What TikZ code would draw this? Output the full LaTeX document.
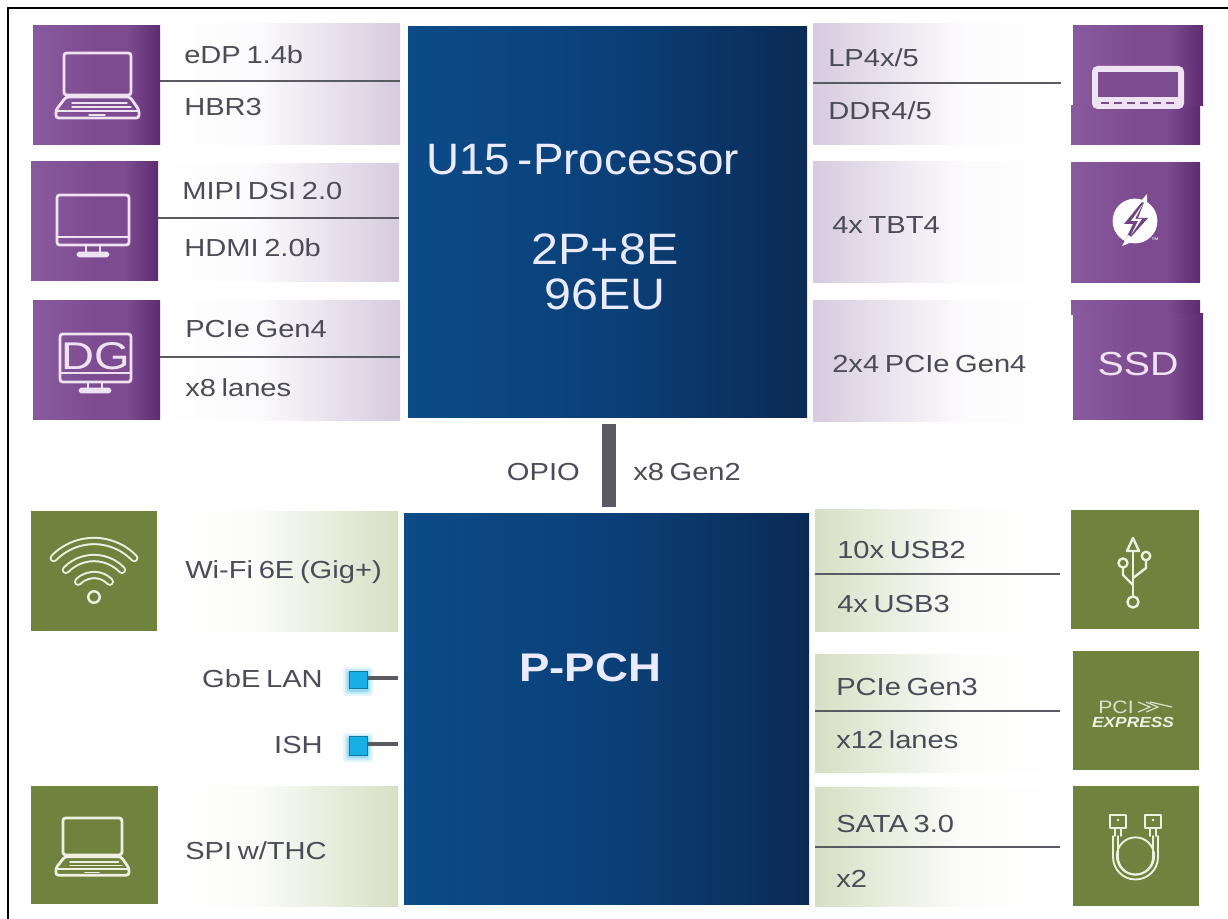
\documentclass[tikz,border=0pt]{standalone}
\usepackage{fontspec}
\setmainfont{Liberation Sans}[FakeStretch=1.18,WordSpace=0.7]
\newfontfamily\wideb{Liberation Sans}[FakeStretch=1.14]
\newfontfamily\chipa{Liberation Sans}[FakeStretch=1.04,WordSpace=0.6]
\newfontfamily\chipb{Liberation Sans}[FakeStretch=1.10]
\usetikzlibrary{calc}
\definecolor{txt}{HTML}{4C4C58}
\definecolor{rulec}{HTML}{5A5A62}
\definecolor{pA}{HTML}{8A5A9F}
\definecolor{pB}{HTML}{7C4B90}
\definecolor{pC}{HTML}{5C2B70}
\definecolor{gA}{HTML}{6F823E}
\definecolor{bA}{HTML}{0C4B88}
\definecolor{bB}{HTML}{0B4079}
\definecolor{bC}{HTML}{0B2B55}
\definecolor{bandP}{HTML}{D7CBDF}
\definecolor{bandG}{HTML}{D6DFC4}
\definecolor{icoP}{HTML}{EFE3F3}
\definecolor{icoG}{HTML}{EEF1E2}
\definecolor{sky}{HTML}{18AEE6}
\pgfdeclarehorizontalshading{iconP}{100bp}{color(0bp)=(pA); color(25bp)=(pA); color(50bp)=(pB); color(62bp)=(pB); color(75bp)=(pC); color(100bp)=(pC)}
\pgfdeclarehorizontalshading{chipS}{100bp}{color(0bp)=(bA); color(25bp)=(bA); color(50bp)=(bB); color(75bp)=(bC); color(100bp)=(bC)}
\pgfdeclarehorizontalshading{bandPL}{100bp}{color(0bp)=(white); color(25bp)=(white); color(45bp)=(white!92!bandP); color(75bp)=(bandP); color(100bp)=(bandP)}
\pgfdeclarehorizontalshading{bandPR}{100bp}{color(0bp)=(bandP); color(25bp)=(bandP); color(55bp)=(white!92!bandP); color(75bp)=(white); color(100bp)=(white)}
\pgfdeclarehorizontalshading{bandGL}{100bp}{color(0bp)=(white); color(25bp)=(white); color(45bp)=(white!92!bandG); color(75bp)=(bandG); color(100bp)=(bandG)}
\pgfdeclarehorizontalshading{bandGR}{100bp}{color(0bp)=(bandG); color(25bp)=(bandG); color(55bp)=(white!92!bandG); color(75bp)=(white); color(100bp)=(white)}
\newcommand{\bx}[6]{\node[#1,anchor=north west,inner sep=0pt,outer sep=0pt,minimum width={(#5-#3)*0.75pt},minimum height={(#6-#4)*0.75pt}] (#2) at (#3,#4) {};}
\tikzset{
 x=0.75pt,y=-0.75pt,
 ipu/.style={shading=iconP},
 igr/.style={fill=gA},
 chip/.style={shading=chipS},
 lab/.style={anchor=base west,inner sep=0pt,text=txt,font=\fontsize{18.5}{20}\selectfont},
 labr/.style={lab,anchor=base east},
 big/.style={anchor=base,inner sep=0pt,text=white!92!blue,font=\chipb\fontsize{33}{36}\selectfont},
 divider/.style={draw=rulec,line width=1.1pt},
 stub/.style={draw=rulec,line width=2.4pt},
 ico/.style={line width=2.1pt,line join=round,line cap=round},
 port/.style={fill=sky,draw=sky!70!black,line width=.5pt},
}
\newcommand{\laptop}[4]{% cx cy scale colour
 \begin{scope}[shift={(#1,#2)},scale=#3,ico,draw=#4]
 \draw[rounded corners=2pt] (-33,-33) rectangle (34,9);
 \draw[rounded corners=2pt] (-31,11) -- (33,11) -- (42,24) -- (42,32) -- (-41,32) -- (-41,24) -- cycle;
 \draw[line width=1.4pt] (-41,25) -- (42,25);
 \draw[line width=1.1pt] (-25,17) -- (30,17) (-25,21) -- (34,21);
 \draw[line width=1.1pt] (-8,29) -- (8,29);
 \end{scope}}
\newcommand{\monitor}[3]{% cx cy colour
 \begin{scope}[shift={(#1,#2)},ico,draw=#3]
 \draw[rounded corners=2pt] (-36,-29) rectangle (36,21);
 \draw (-36,13) -- (36,13);
 \draw (-7,21) -- (-7,29) (7,21) -- (7,29);
 \draw[rounded corners=1pt] (-15,29) rectangle (15,32);
 \end{scope}}
\begin{document}
\begin{tikzpicture}
\useasboundingbox (0,0) rectangle (1228,919);
\fill[white] (0,0) rectangle (1228,919);
% frame
\coordinate (fa) at (8,919); \coordinate (fb) at (8,8); \coordinate (fc) at (1228,8);
\draw[black,line width=.9pt] (fa) -- (fb) -- (fc);

% bands
\bx{shading=bandPL}{lb1}{160}{24}{400}{145}
\bx{shading=bandPL}{lb2}{158}{164}{399}{282}
\bx{shading=bandPL}{lb3}{160}{301}{400}{421}
\bx{shading=bandPR}{rb1}{813}{24}{1060}{145}
\bx{shading=bandPR}{rb2}{813}{162}{1060}{283}
\bx{shading=bandPR}{rb3}{813}{301}{1060}{422}
\bx{shading=bandGL}{lg1}{157}{512}{398}{631}
\bx{shading=bandGL}{lg2}{158}{786}{398}{906}
\bx{shading=bandGR}{rg1}{815}{510}{1060}{631}
\bx{shading=bandGR}{rg2}{815}{654}{1060}{772}
\bx{shading=bandGR}{rg3}{815}{787}{1060}{906}

% icon squares
\bx{ipu}{il1}{33}{26}{160}{145}
\bx{ipu}{il2}{31}{162}{158}{281}
\bx{ipu}{il3}{33}{301}{160}{420}
\bx{ipu}{ir1b}{1071}{106}{1200}{145}
\bx{ipu}{ir1}{1073}{26}{1203}{106}
\bx{ipu}{ir2}{1071}{163}{1200}{283}
\bx{ipu}{ir3b}{1071}{301}{1200}{315}
\bx{ipu}{ir3}{1073}{314}{1203}{420}
\bx{igr}{gl1}{31}{511}{157}{631}
\bx{igr}{gl2}{31}{786}{158}{904}
\bx{igr}{gr1}{1071}{510}{1199}{629}
\bx{igr}{gr2}{1073}{651}{1199}{770}
\bx{igr}{gr3}{1073}{786}{1199}{906}

% chips
\bx{chip}{cpu}{408}{27}{807}{418}
\bx{chip}{pch}{404}{514}{809}{904}

% dividers
\foreach \n/\xa/\xb/\yy in {d1/160/400/81,d2/158/399/218,d3/160/400/357,d4/813/1061/83,d5/815/1060/574,d6/815/1060/711,d7/815/1060/847}{
 \coordinate (\n a) at (\xa,\yy); \coordinate (\n b) at (\xb,\yy);
 \draw[divider] (\n a) -- (\n b);
}

% labels
\node[lab] (t1) at (184,64) {eDP 1.4b};
\node[lab] (t2) at (184,116) {HBR3};
\node[lab] (t3) at (182,200) {MIPI DSI 2.0};
\node[lab] (t4) at (184,257) {HDMI 2.0b};
\node[lab] (t5) at (185,338) {PCIe Gen4};
\node[lab] (t6) at (185,397) {x8 lanes};
\node[lab] (t7) at (828,67) {LP4x/5};
\node[lab] (t8) at (828,120) {DDR4/5};
\node[lab] (t9) at (832,234) {4x TBT4};
\node[lab] (t10) at (832,373) {2x4 PCIe Gen4};
\node[lab] (t11) at (185,578) {Wi-Fi 6E (Gig+)};
\node[labr] (t12) at (323,687) {GbE LAN};
\node[labr] (t13) at (323,753) {ISH};
\node[lab] (t14) at (185,859) {SPI w/THC};
\node[lab] (t15) at (837,558) {10x USB2};
\node[lab] (t16) at (837,612) {4x USB3};
\node[lab] (t17) at (836,695) {PCIe Gen3};
\node[lab] (t18) at (836,748) {x12 lanes};
\node[lab] (t19) at (836,832) {SATA 3.0};
\node[lab] (t20) at (836,887) {x2};
\node[labr] (t21) at (580,481) {OPIO};
\node[lab] (t22) at (633,481) {x8 Gen2};

% chip labels
\node[big,anchor=base west,font=\chipa\fontsize{33}{36}\selectfont] (c1) at (426,175) {U15 -Processor};
\node[big] (c2) at (605,265) {2P+8E};
\node[big] (c3) at (605,310) {96EU};
\node[big,font=\wideb\bfseries\fontsize{30}{32}\selectfont] (c4) at (590,681) {P-PCH};

% OPIO link
\coordinate (oa) at (609,424); \coordinate (ob) at (609,507);
\draw[draw=rulec,line width=10.5pt] (oa) -- (ob);

% small ports
\foreach \y in {679,745}{
 \foreach \g/\o in {6/.10,4/.16,2/.25}{
  \fill[sky,opacity=\o,rounded corners=2pt] (349-\g,\y-8-\g+2) rectangle (367+\g,\y+9+\g+2);
 }
}
\bx{port}{p1}{349}{671}{367}{688}
\bx{port}{p2}{349}{736}{367}{755}
\coordinate (p1e) at (398,678); \coordinate (p2e) at (398,744);
\draw[stub] (p1.east |- p1e) -- (p1e);
\draw[stub] (p2.east |- p2e) -- (p2e);

% icons
\laptop{97}{86}{1}{icoP}
\monitor{93}{224}{icoP}
\begin{scope}[ico,draw=icoP]
 \draw[rounded corners=2pt] (60,334) rectangle (131,382);
 \draw (60,373) -- (131,373);
 \draw (88,382) -- (88,389) (102,382) -- (102,389);
 \draw[rounded corners=1pt] (80,389) rectangle (110,392);
\end{scope}
\node[anchor=base,inner sep=0pt,text=icoP,font=\fontsize{29}{30}\selectfont] (dg) at (95.5,370) {DG};
% RAM
\fill[icoP,rounded corners=4pt] (1092,66) rectangle (1184,109);
\fill[pB] (1098,72) rectangle (1178,97);
\foreach \x in {1101,1114,1127,1140,1153,1166}{\draw[pB,line width=1.3pt] (\x,103) -- (\x+8,103);}
% Thunderbolt
\fill[white] (1135,221) circle (16.8pt);
\fill[pB!90!black] (1146,197) -- (1124,224) -- (1133,224) -- (1122,247) -- (1148,218) -- (1138,218) -- cycle;
\fill[white] (1143,204) -- (1131,221) -- (1138,221) -- (1131,235) -- (1142,219) -- (1135,219) -- cycle;
\fill[white] (1147,194) -- (1140,202) -- (1147,203) -- cycle;
\fill[white] (1122,246) -- (1137,240) -- (1128,235) -- cycle;
\node[inner sep=0pt,text=white,font=\fontsize{5}{5}\selectfont] (tm) at (1155,240) {™};
% SSD
\node[anchor=base,inner sep=0pt,text=icoP,font=\fontsize{25}{26}\selectfont] (ssd) at (1138,376) {SSD};
% Wifi
\foreach \r in {56,39,22}{
 \draw[icoG,line width=6.2pt,line cap=round] ({94-\r*sin(46)},{597-\r*cos(46)}) arc[start angle=224,end angle=316,radius=\r];
 \draw[gA,line width=3.2pt,line cap=round] ({94-\r*sin(46)},{597-\r*cos(46)}) arc[start angle=224,end angle=316,radius=\r];
}
\draw[icoG,line width=1.8pt] (94,597) circle (4.3pt);
% green laptop
\laptop{92}{847}{0.88}{icoG}
% USB
\begin{scope}[ico,draw=icoG,line width=1.8pt]
 \draw (1133,551) -- (1133,596);
 \draw (1133,538) -- (1127,551) -- (1139,551) -- cycle;
 \draw (1123,563) circle (3.4pt);
 \draw (1146,556) circle (3.2pt);
 \draw (1133,602) circle (4.2pt);
 \draw (1123,568) -- (1123,575) -- (1133,585);
 \draw (1146,561) -- (1146,568) -- (1133,578);
\end{scope}
% PCI Express
\node[anchor=base,inner sep=0pt,text=icoG!85!gA,font=\fontsize{13.5}{14}\selectfont] (pci) at (1116,713) {PCI};
\foreach \x in {1138,1146}{\draw[icoG!85!gA,line width=.9pt] (\x,702) -- (\x+12,707) -- (\x,712);}
\draw[icoG!85!gA,line width=.9pt] (1150,702) -- (1172,707);
\node[anchor=base,inner sep=0pt,text=icoG,font=\bfseries\itshape\fontsize{11}{12}\selectfont] (pcx) at (1133,727) {EXPRESS};
% SATA
\begin{scope}[ico,draw=icoG,line width=1.4pt]
 \draw (1110,815) rectangle (1126,828);
 \draw (1145,815) rectangle (1161,828);
 \draw (1115,828) -- (1115,836) (1121,828) -- (1121,836) (1150,828) -- (1150,836) (1156,828) -- (1156,836);
 \draw (1113,836) -- (1113,857) arc[start angle=180,end angle=0,radius=22.5] -- (1158,836);
 \draw (1118,836) -- (1118,857) arc[start angle=180,end angle=0,radius=17.5] -- (1153,836);
 \draw (1135.5,856) circle (14pt);
 \fill[icoG] (1118,820) circle (1pt) (1153,820) circle (1pt);
\end{scope}
\end{tikzpicture}
\end{document}
